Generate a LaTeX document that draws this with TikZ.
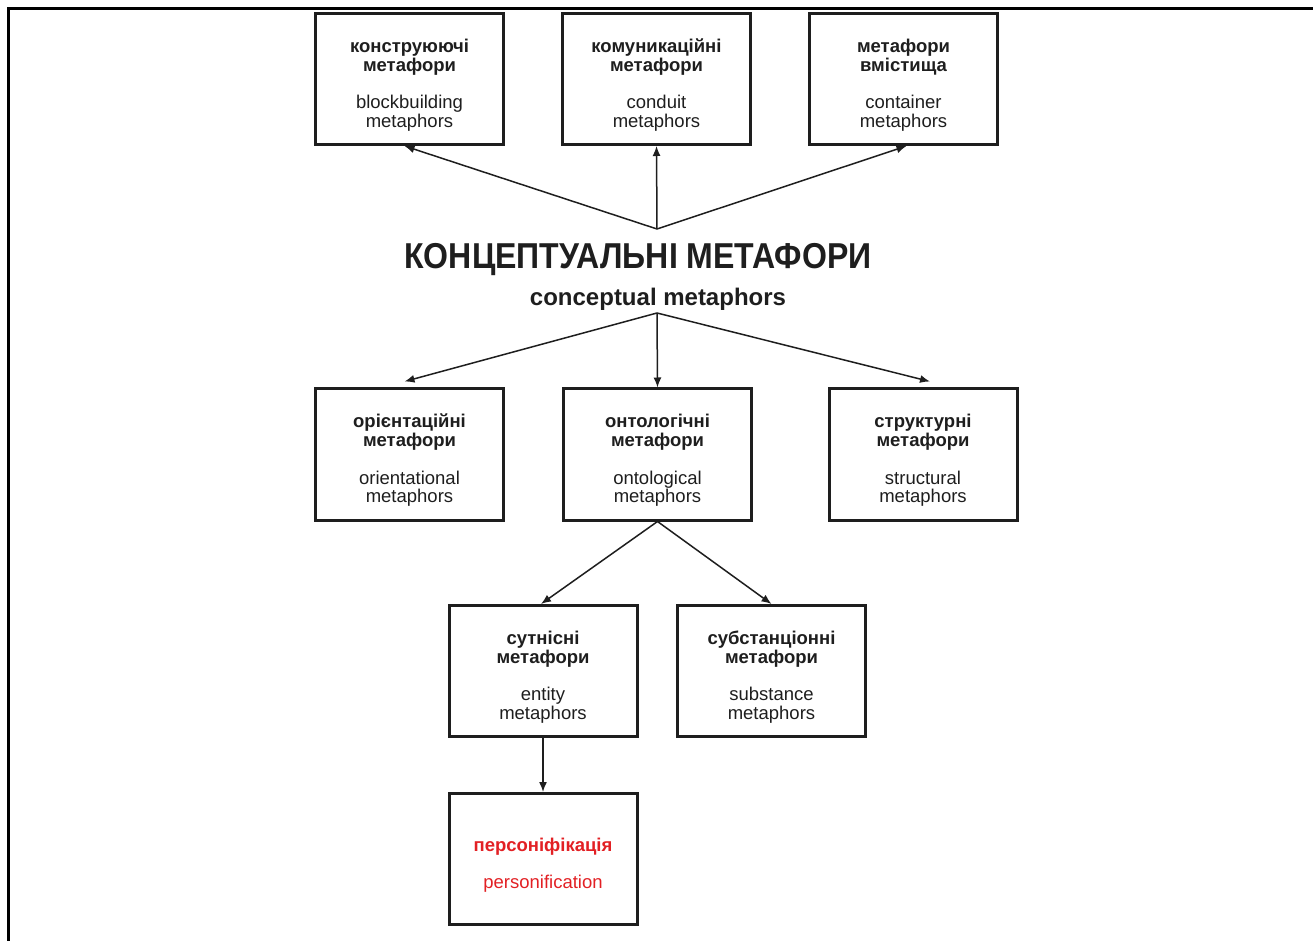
\documentclass[tikz,border=0pt]{standalone}
\usepackage{fontspec}
\setmainfont{Liberation Sans}
\newfontfamily\titlefont[FakeStretch=0.89]{Liberation Sans}
\usetikzlibrary{arrows.meta}
\definecolor{persred}{RGB}{226,32,36}
\definecolor{inkgray}{RGB}{30,30,30}
\newcommand\mtext[4]{{\bfseries\rule{0pt}{12.8pt}#1}\\{\bfseries #2}\\[9.4pt]#3\\#4}
\tikzset{
	mbox/.style={draw=inkgray, line width=1.5pt, minimum width=94pt, minimum height=65.5pt, inner sep=0pt, align=center, text=inkgray, font=\fontsize{9.25}{9.4}\selectfont},
	marrow/.style={draw=inkgray, line width=0.75pt, -{Latex[length=5pt,width=4pt]}}
}

\begin{document}
\begin{tikzpicture}[x=0.5pt, y=-0.5pt]
		%%%%% START %%%%%
		\useasboundingbox (0, 0) rectangle (1313, 941);
		
		\draw[line width=1.5pt] (8, 941) -- (8, 9) -- (1313, 9);
		
		\node[mbox] (konstr) at (409.5, 79) {\mtext{конструюючі}{метафори}{blockbuilding}{metaphors}};
		\node[mbox] (komun) at (656.5, 79) {\mtext{комуникаційні}{метафори}{conduit}{metaphors}};
		\node[mbox] (vmist) at (903.5, 79) {\mtext{метафори}{вмістища}{container}{metaphors}};
		
		\node[text=inkgray, font=\titlefont\bfseries\fontsize{18}{20}\selectfont] (kontsept) at (638, 260) {КОНЦЕПТУАЛЬНІ МЕТАФОРИ};
		\node[text=inkgray, font=\bfseries\fontsize{12}{13}\selectfont] (concept) at (658, 299) {conceptual metaphors};
		
		\coordinate (apexup) at (657, 229);
		\coordinate (apexdown) at (657, 313);
		
		\node[mbox] (orient) at (409.5, 454.5) {\mtext{орієнтаційні}{метафори}{orientational}{metaphors}};
		\node[mbox] (ontol) at (657.5, 454.5) {\mtext{онтологічні}{метафори}{ontological}{metaphors}};
		\node[mbox] (strukt) at (923, 454.5) {\mtext{структурні}{метафори}{structural}{metaphors}};
		
		\node[mbox] (sutn) at (543, 671) {\mtext{сутнісні}{метафори}{entity}{metaphors}};
		\node[mbox] (substan) at (771.5, 671) {\mtext{субстанціонні}{метафори}{substance}{metaphors}};
		
		\node[mbox, text=persred] (person) at (543, 859) {{\bfseries\rule{0pt}{12.8pt}персоніфікація}\\[9.4pt]personification};
		
		% arrows
		\draw[marrow] (apexup) -- ([xshift=-2.5pt]konstr.south);
		\draw[marrow] (apexup) -- (komun.south);
		\draw[marrow] (apexup) -- ([xshift=1.5pt]vmist.south);
		
		\draw[marrow] (apexdown) -- ([xshift=-2.5pt, yshift=3pt]orient.north);
		\draw[marrow] (apexdown) -- (ontol.north);
		\draw[marrow] (apexdown) -- ([xshift=3.5pt, yshift=3pt]strukt.north);
		
		\draw[marrow] (ontol.south) -- ([xshift=-1pt]sutn.north);
		\draw[marrow] (ontol.south) -- (substan.north);
		
		\draw[marrow] (sutn.south) -- (person.north);
		%%%%% END %%%%%
	\end{tikzpicture}
\end{document}
